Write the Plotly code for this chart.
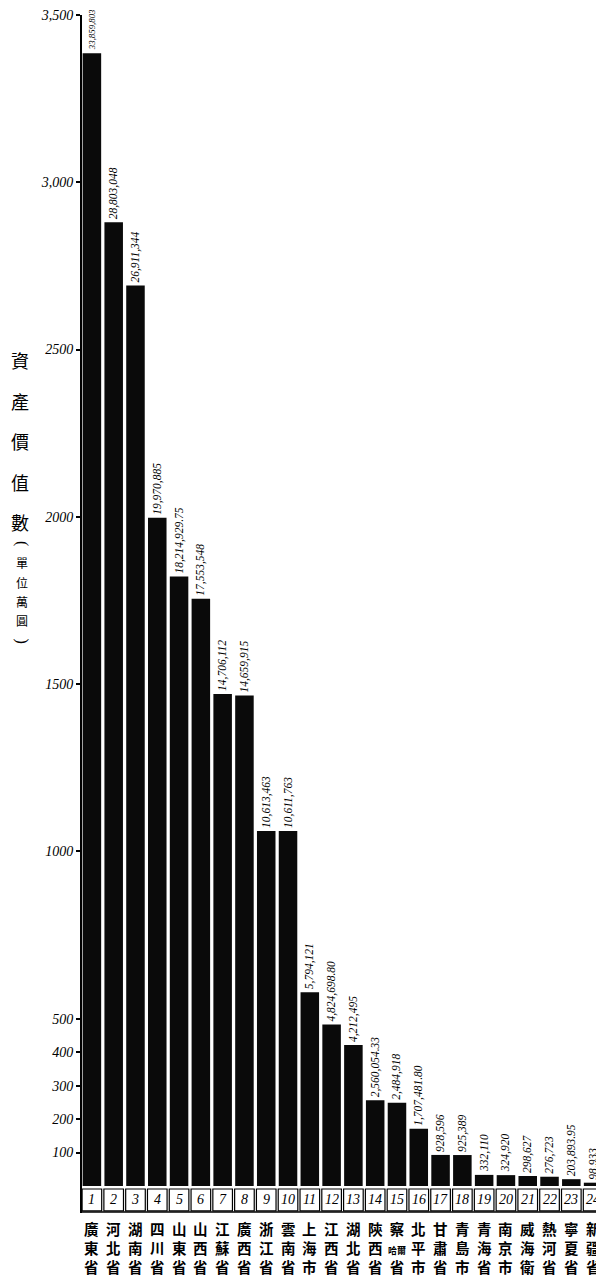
import plotly.graph_objects as go

# ---------------- data ----------------
ranks = [str(i) for i in range(1, 25)]
provinces = ["廣東省", "河北省", "湖南省", "四川省", "山東省", "山西省", "江蘇省", "廣西省",
             "浙江省", "雲南省", "上海市", "江西省", "湖北省", "陝西省", "察哈爾省", "北平市",
             "甘肅省", "青島市", "青海省", "南京市", "威海衛", "熱河省", "寧夏省", "新疆省"]
values_yuan = [33859803, 28803048, 26911344, 19970885, 18214929.75, 17553548, 14706112, 14659915,
               10613463, 10611763, 5794121, 4824698.80, 4212495, 2560054.33, 2484918, 1707481.80,
               928596, 925389, 332110, 324920, 298627, 276723, 203893.95, 98933]
value_labels = ["33,859,803", "28,803,048", "26,911,344", "19,970,885", "18,214,929.75", "17,553,548",
                "14,706,112", "14,659,915", "10,613,463", "10,611,763", "5,794,121", "4,824,698.80",
                "4,212,495", "2,560,054.33", "2,484,918", "1,707,481.80", "928,596", "925,389",
                "332,110", "324,920", "298,627", "276,723", "203,893.95", "98,933"]
tick_vals = [100, 200, 300, 400, 500, 1000, 1500, 2000, 2500, 3000, 3500]
tick_text = ["100", "200", "300", "400", "500", "1000", "1500", "2000", "2500", "3,000", "3,500"]
title_chars = ["資", "產", "價", "值", "數"]
unit_chars = ["(", "單", "位", "萬", "圓", ")"]

# ---------------- layout helpers ----------------
OFF = 8                       # page body margin
W, H = 604 - OFF, 1285 - OFF
TOP, BASE = 13 - OFF, 1186 - OFF   # figure pixel rows of 3500 and 0
LEFT = 81 - OFF
def py(p):                    # reference screen pixel row -> paper y
    return (BASE - (p - OFF)) / (BASE - TOP)
def px(p):                    # reference screen pixel column -> paper x
    return ((p - OFF) - LEFT) / (W - LEFT)

values_wan = [v / 10000 for v in values_yuan]
xs = list(range(len(ranks)))
# first label sits against the top edge, so it is set a little smaller
label_sizes = [8.8] + [11.5] * (len(ranks) - 1)

HAND = "Liberation Serif"
CJK = "Noto Sans CJK TC"

fig = go.Figure()
fig.add_trace(go.Bar(
    x=xs, y=values_wan, marker=dict(color="#0a0a0a", line=dict(width=0)),
    text=value_labels, textposition="outside", textangle=-90,
    textfont=dict(family=HAND, size=label_sizes, color="black", style="italic"),
    constraintext="none", cliponaxis=False, hoverinfo="skip",
))

annotations = []
shapes = []
for i, (r, name) in enumerate(zip(ranks, provinces)):
    shapes.append(dict(type="rect", xref="x", yref="paper",
                       x0=i - 0.45, x1=i + 0.45, y0=py(1211), y1=py(1189),
                       line=dict(color="black", width=1.2), fillcolor="white"))
    annotations.append(dict(x=i, y=py(1200), xref="x", yref="paper", text=r, showarrow=False,
                            font=dict(family=HAND, size=14, color="black", style="italic"),
                            xanchor="center", yanchor="middle"))
    if len(name) == 4:
        txt = name[0] + "<br><span style='font-size:9px'>" + name[1:3] + "</span><br>" + name[3]
    else:
        txt = "<br>".join(name)
    annotations.append(dict(x=i, y=py(1216), xref="x", yref="paper", text=txt, showarrow=False,
                            font=dict(family=CJK, size=14.5, color="black", weight="bold"),
                            xanchor="center", yanchor="top"))

# axis title (vertical)
for k, ch in enumerate(title_chars):
    annotations.append(dict(x=px(20), y=py(359 + 40.5 * k), xref="paper", yref="paper", text=ch,
                            showarrow=False, font=dict(family=CJK, size=18, color="black"),
                            xanchor="center", yanchor="middle"))
for k, ch in enumerate(unit_chars):
    is_paren = ch in "()"
    annotations.append(dict(x=px(22), y=py(542 + 19.5 * k), xref="paper", yref="paper", text=ch,
                            showarrow=False, textangle=90 if is_paren else 0,
                            font=dict(family=HAND, size=16, color="black") if is_paren
                            else dict(family=CJK, size=12, color="black"),
                            xanchor="center", yanchor="middle"))

# axis extension & bottom rule
shapes.append(dict(type="line", xref="paper", yref="paper", x0=0, x1=0, y0=py(1213), y1=1,
                   line=dict(color="black", width=2)))
shapes.append(dict(type="line", xref="paper", yref="paper", x0=0, x1=1, y0=py(1212), y1=py(1212),
                   line=dict(color="black", width=1.5)))

fig.update_layout(
    width=W, height=H, margin=dict(l=LEFT, r=0, t=TOP, b=H - BASE),
    paper_bgcolor="white", plot_bgcolor="white", showlegend=False,
    bargap=0.15, annotations=annotations, shapes=shapes,
    xaxis=dict(range=[-0.5, len(ranks) - 0.5], showticklabels=False, showgrid=False,
               zeroline=False, showline=False, ticks=""),
    yaxis=dict(range=[0, 3500], tickvals=tick_vals, ticktext=tick_text, ticks="outside",
               ticklen=4, tickwidth=1.5, tickcolor="black", showgrid=False, zeroline=False,
               showline=False, ticklabeloverflow="allow",
               tickfont=dict(family=HAND, size=14, color="black", style="italic")),
)
fig.write_html("out.html")
